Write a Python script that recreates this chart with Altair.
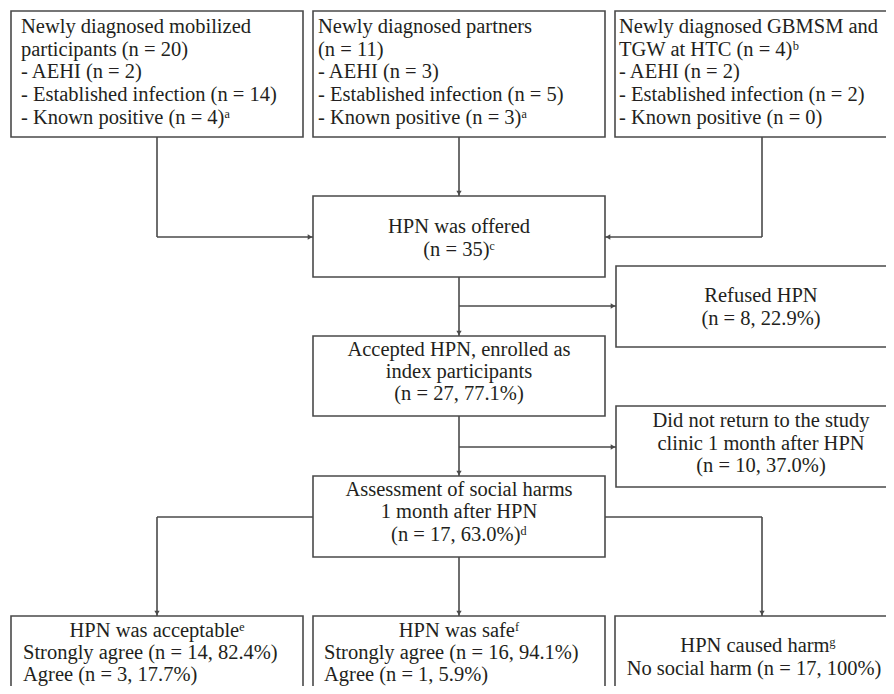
import altair as alt
import pandas as pd

W0, W1 = 8, 886
H0, H1 = 8, 686

# Boxes: name, x0, x1, y0, y1 (diagram layout units)
box_names = ["top1", "top2", "top3", "offered", "refused", "accepted", "noreturn", "assess", "bot1", "bot2", "bot3"]
box_x0 = [11, 313, 615, 313, 616, 313, 616, 313, 11, 313, 615]
box_x1 = [303, 605, 907, 605, 907, 605, 907, 605, 303, 605, 907]
box_y0 = [11, 11, 11, 196, 266, 336, 406, 476, 616, 616, 616]
box_y1 = [137, 137, 137, 277, 347, 416, 487, 557, 720, 720, 720]

# Connector segments
seg_x1 = [157, 157, 459, 762, 762, 459, 459, 459, 459, 313, 157, 459, 605, 762]
seg_y1 = [137, 237, 137, 137, 237, 277, 306, 416, 447, 517, 517, 557, 517, 517]
seg_x2 = [157, 313, 459, 762, 605, 459, 616, 459, 616, 157, 157, 459, 762, 762]
seg_y2 = [237, 237, 196, 237, 237, 336, 306, 476, 447, 517, 616, 616, 517, 616]

# Arrowheads: tip position and direction
arr_x = [313, 459, 605, 459, 616, 459, 616, 157, 459, 762]
arr_y = [237, 196, 237, 336, 306, 476, 447, 616, 616, 616]
arr_dir = ["right", "down", "left", "down", "right", "down", "right", "down", "down", "down"]

# Text lines
txt = [
    "Newly diagnosed mobilized", "participants (n = 20)", "- AEHI (n = 2)",
    "- Established infection (n = 14)", "- Known positive (n = 4)\u1d43",
    "Newly diagnosed partners", "(n = 11)", "- AEHI (n = 3)",
    "- Established infection (n = 5)", "- Known positive (n = 3)\u1d43",
    "Newly diagnosed GBMSM and", "TGW at HTC (n = 4)\u1d47", "- AEHI (n = 2)",
    "- Established infection (n = 2)", "- Known positive (n = 0)",
    "HPN was offered", "(n = 35)\u1d9c",
    "Refused HPN", "(n = 8, 22.9%)",
    "Accepted HPN, enrolled as", "index participants", "(n = 27, 77.1%)",
    "Did not return to the study", "clinic 1 month after HPN", "(n = 10, 37.0%)",
    "Assessment of social harms", "1 month after HPN", "(n = 17, 63.0%)\u1d48",
    "HPN was acceptable\u1d49", "Strongly agree (n = 14, 82.4%)", "Agree (n = 3, 17.7%)",
    "HPN was safe\u1da0", "Strongly agree (n = 16, 94.1%)", "Agree (n = 1, 5.9%)",
    "HPN caused harm\u1d4d", "No social harm (n = 17, 100%)",
]
txt_x = [
    21, 21, 21, 21, 21,
    318, 318, 318, 318, 318,
    619, 619, 619, 619, 619,
    459, 459,
    761, 761,
    459, 459, 459,
    761, 761, 761,
    459, 459, 459,
    157, 23, 23,
    459, 324, 324,
    758, 754,
]
txt_y = [
    27, 50, 72, 95, 118,
    27, 50, 72, 95, 118,
    27, 50, 72, 95, 118,
    227, 250,
    296, 319,
    350, 372, 394,
    421, 444, 466,
    490, 512, 535,
    631, 653, 675,
    631, 653, 675,
    646, 669,
]
txt_align = (["left"] * 15 + ["center"] * 13 + ["center", "left", "left"] * 2 + ["center"] * 2)

boxes = pd.DataFrame({"name": box_names, "x0": box_x0, "x1": box_x1, "y0": box_y0, "y1": box_y1})
segs = pd.DataFrame({"x1": seg_x1, "y1": seg_y1, "x2": seg_x2, "y2": seg_y2})
arrows = pd.DataFrame({"x": arr_x, "y": arr_y, "dir": arr_dir})
texts = pd.DataFrame({"x": txt_x, "y": txt_y, "text": txt, "align": txt_align})

off = 3
shape_map = {"right": "triangle-right", "left": "triangle-left", "down": "triangle-down"}
arrows["cx"] = arrows.apply(lambda r: r.x - off if r.dir == "right" else (r.x + off if r.dir == "left" else r.x), axis=1)
arrows["cy"] = arrows.apply(lambda r: r.y - off if r.dir == "down" else r.y, axis=1)
arrows["shape"] = arrows["dir"].map(shape_map)

xs = alt.Scale(domain=[W0, W1], range=[0, W1 - W0], nice=False, zero=False)
ys = alt.Scale(domain=[H0, H1], range=[0, H1 - H0], nice=False, zero=False)

LINE = "#4a4a4a"
FONT = "Liberation Serif"

rects = alt.Chart(boxes).mark_rect(fill="white", stroke=LINE, strokeWidth=1.6, clip=True).encode(
    x=alt.X("x0:Q", scale=xs, axis=None),
    x2="x1:Q",
    y=alt.Y("y0:Q", scale=ys, axis=None),
    y2="y1:Q",
)

rules = alt.Chart(segs).mark_rule(color=LINE, strokeWidth=1.6, clip=True).encode(
    x=alt.X("x1:Q", scale=xs, axis=None),
    x2="x2:Q",
    y=alt.Y("y1:Q", scale=ys, axis=None),
    y2="y2:Q",
)

heads = alt.Chart(arrows).mark_point(filled=True, size=28, color=LINE, opacity=1).encode(
    x=alt.X("cx:Q", scale=xs, axis=None),
    y=alt.Y("cy:Q", scale=ys, axis=None),
    shape=alt.Shape("shape:N", scale=None, legend=None),
)

def text_layer(al):
    return alt.Chart(texts).transform_filter(alt.datum.align == al).mark_text(
        align=al, baseline="middle", font=FONT, fontSize=20.5, color="#231f20", clip=True
    ).encode(
        x=alt.X("x:Q", scale=xs, axis=None),
        y=alt.Y("y:Q", scale=ys, axis=None),
        text="text:N",
    )

chart = alt.layer(rules, rects, heads, text_layer("left"), text_layer("center")).properties(
    width=W1 - W0, height=H1 - H0, padding=0, background="white"
).configure_view(stroke=None)

chart.save("out.html", embed_options={"renderer": "svg", "actions": False})
